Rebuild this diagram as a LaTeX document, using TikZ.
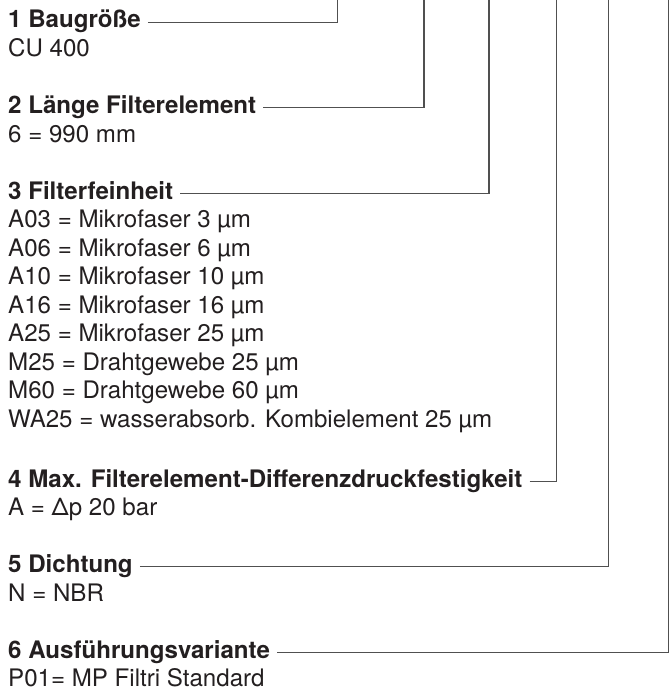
\documentclass[tikz,border=0pt]{standalone}
\usepackage{fontspec}
\setmainfont{TeX Gyre Heros}
\usepackage{xcolor}
\usepackage{tikz}
\usetikzlibrary{positioning}
\definecolor{schrift}{HTML}{231F20}
\definecolor{linie}{HTML}{505050}
\tikzset{
    zeile/.style={anchor=base west, inner sep=0pt, text=schrift,
        font=\fontsize{24.1}{28}\selectfont},
    kopf/.style={zeile, font=\fontsize{24.1}{28}\selectfont\bfseries,
        text height=11.4pt, text depth=0pt},
    fuehrung/.style={draw=linie, line width=1.2pt},
}

\begin{document}
\begin{tikzpicture}[x=1pt, y=-1pt, node distance=28.5pt]
    \useasboundingbox (0,0) rectangle (670,693);
    % Anschluesse am oberen Rand
    \coordinate (o1) at (337.7,0);
    \coordinate (o2) at (424,0);
    \coordinate (o3) at (489,0);
    \coordinate (o4) at (556.5,0);
    \coordinate (o5) at (608.3,0);
    \coordinate (o6) at (668.7,0);

    \node[kopf] (k1) at (8,28) {1 Baugröße};
    \node[zeile, below=of k1.base west, anchor=base west] (w1) {CU 400};

    \node[kopf, below=57pt of w1.base west, anchor=base west] (k2) {2 Länge Filterelement};
    \node[zeile, below=of k2.base west, anchor=base west] (w2) {6 = 990 mm};

    \node[kopf, below=57pt of w2.base west, anchor=base west] (k3) {3 Filterfeinheit};
    \node[zeile, below=of k3.base west, anchor=base west] (f1) {A03 = Mikrofaser 3 µm};
    \foreach \txt [count=\i from 2, remember=\i as \j (initially 1)] in
        {A06 = Mikrofaser 6 µm, A10 = Mikrofaser 10 µm, A16 = Mikrofaser 16 µm,
         A25 = Mikrofaser 25 µm, M25 = Drahtgewebe 25 µm, M60 = Drahtgewebe 60 µm,
         WA25 = wasserabsorb. Kombielement 25 µm}
        \node[zeile, below=of f\j.base west, anchor=base west] (f\i) {\txt};

    \node[kopf, below=60pt of f8.base west, anchor=base west] (k4) {4 Max. Filterelement-Differenzdruckfestigkeit};
    \node[zeile, below=of k4.base west, anchor=base west] (w4) {A = Δp 20 bar};

    \node[kopf, below=57pt of w4.base west, anchor=base west] (k5) {5 Dichtung};
    \node[zeile, below=of k5.base west, anchor=base west] (w5) {N = NBR};

    \node[kopf, below=57pt of w5.base west, anchor=base west] (k6) {6 Ausführungsvariante};
    \node[zeile, below=of k6.base west, anchor=base west] (w6) {P01= MP Filtri Standard};

    % Fuehrungslinien
    \foreach \n in {1,...,6}
        \draw[fuehrung] ([xshift=7pt]k\n.east) -| (o\n);
\end{tikzpicture}
\end{document}
